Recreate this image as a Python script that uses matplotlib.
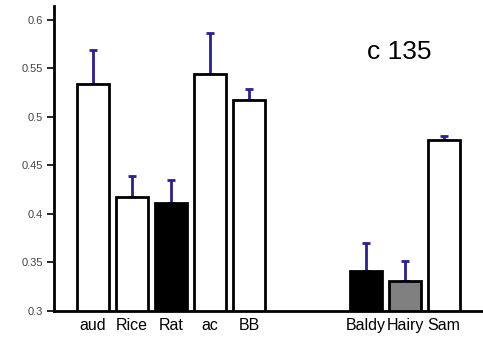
import numpy as np
import matplotlib
matplotlib.use("Agg")
import matplotlib.pyplot as plt

labels = ["aud", "Rice", "Rat", "ac", "BB", "Baldy", "Hairy", "Sam"]
positions = [1, 2, 3, 4, 5, 8, 9, 10]
means = [0.534, 0.417, 0.411, 0.544, 0.517, 0.341, 0.331, 0.476]
errors = [0.035, 0.022, 0.024, 0.042, 0.012, 0.029, 0.020, 0.004]
fills = ["white", "white", "black", "white", "white", "black", "#808080", "white"]

plt.rcParams['font.family'] = ['Liberation Sans', 'DejaVu Sans']

fig = plt.figure(figsize=(4.83, 3.39), dpi=100)
ax = fig.add_axes([0.1118, 0.0826, 0.8882, 0.8994])

ax.bar(positions, means, width=0.82, bottom=0, color=fills,
       edgecolor="black", linewidth=2, zorder=2)
ax.errorbar(positions, means, yerr=[np.zeros(len(errors)), errors],
            fmt="none", ecolor="#2b1f96", elinewidth=2, capsize=3,
            capthick=2, zorder=1)

ax.set_xlim(0, 11)
ax.set_ylim(0.3, 0.614)
ax.set_yticks([0.3, 0.35, 0.4, 0.45, 0.5, 0.55, 0.6])
ax.set_yticklabels(["0.3", "0.35", "0.4", "0.45", "0.5", "0.55", "0.6"])
ax.set_xticks(positions)
ax.set_xticklabels(labels, fontsize=11.5)
ax.tick_params(axis="x", length=0, pad=5)
ax.tick_params(axis="y", labelsize=8, length=5, width=1.2, labelcolor="#444444", pad=3)

for s in ["top", "right"]:
    ax.spines[s].set_visible(False)
ax.spines["left"].set_linewidth(2)
ax.spines["bottom"].set_linewidth(2)

ax.text(8.85, 0.567, "c 135", fontsize=19, ha="center", va="center")

fig.savefig("out.png", dpi=100)
